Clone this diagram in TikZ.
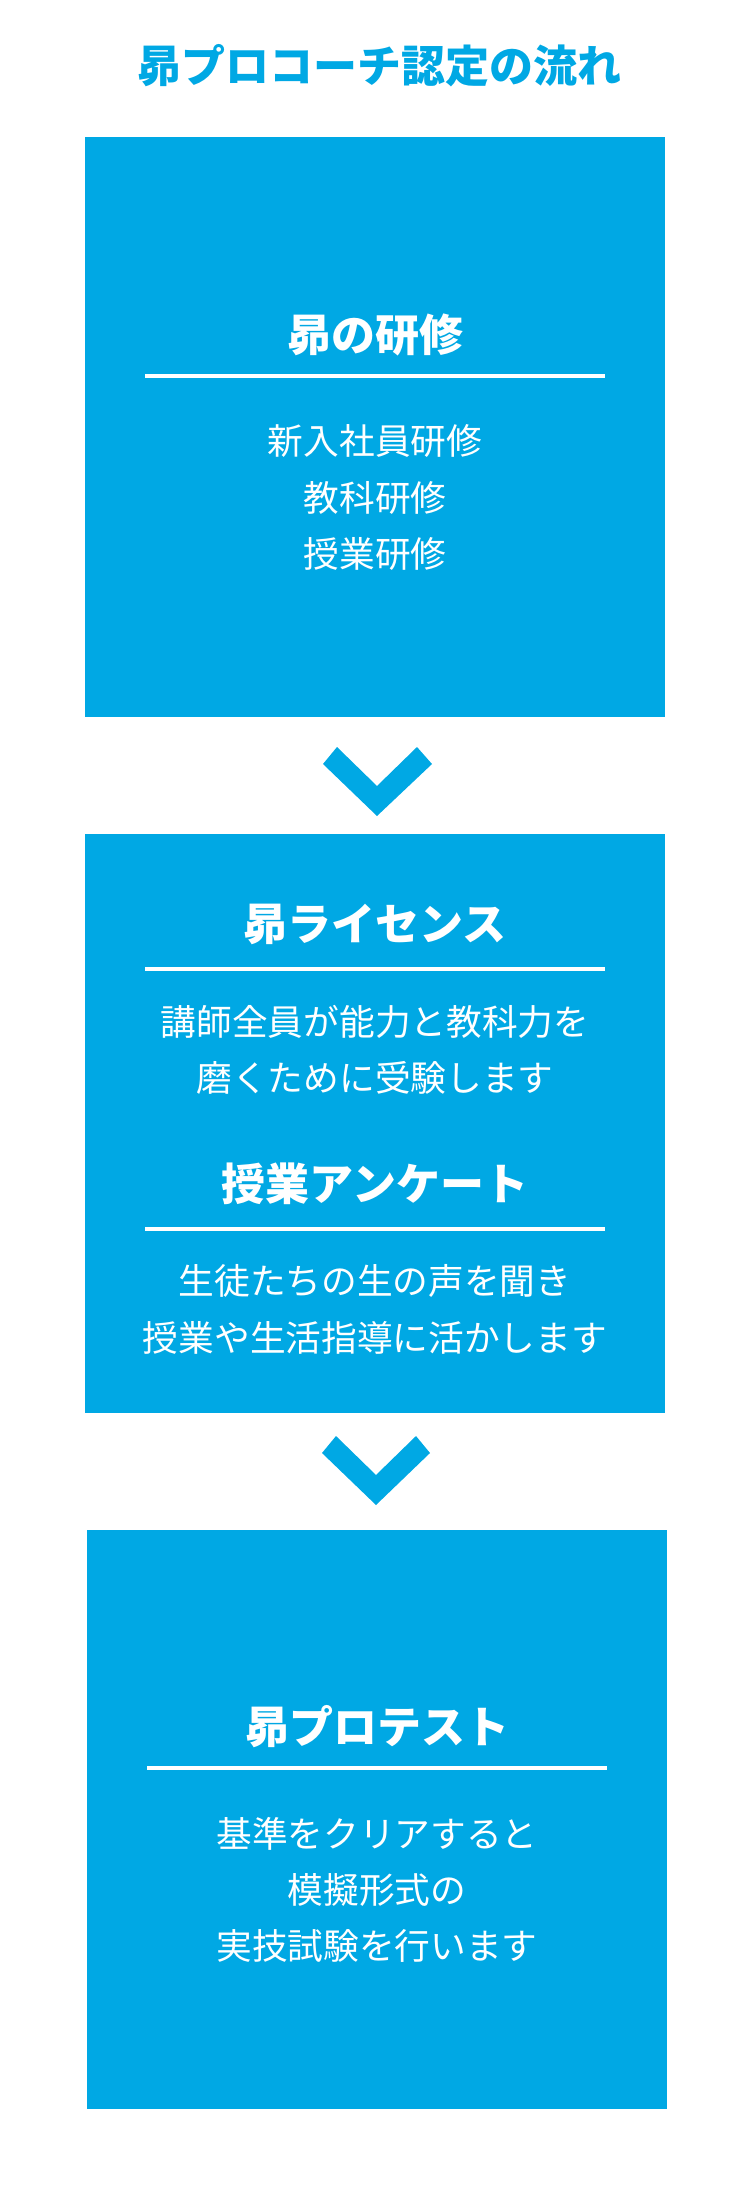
\documentclass[tikz,border=0pt]{standalone}
\usepackage{fontspec}
\setmainfont{Noto Sans CJK JP}
\definecolor{sblue}{HTML}{00A8E4}
\tikzset{
  x=1pt, y=-1pt,
  bx/.style={fill=sblue, draw=none, minimum width=580pt, minimum height=580pt, inner sep=0pt},
  ttl/.style={text=sblue, font=\fontsize{44pt}{52pt}\selectfont\bfseries, inner sep=0pt, text height=38.7pt, text depth=5.3pt},
  hd/.style={text=white, font=\fontsize{44pt}{52pt}\selectfont\bfseries, inner sep=0pt, text height=38.7pt, text depth=5.3pt},
  bd/.style={text=white, font=\fontsize{35.7pt}{44pt}\selectfont, inner sep=0pt, text height=31.4pt, text depth=4.3pt},
  rl/.style={draw=white, line width=4pt},
  chev/.style={fill=sblue, draw=none}
}
\begin{document}
\begin{tikzpicture}
\useasboundingbox (0,0) rectangle (750,2200);
\node[ttl] (t) at (379.5,66) {昴プロコーチ認定の流れ};
% box 1
\node[bx] (b1) at (375,427) {};
\node[hd] (h1) at (375,335) {昴の研修};
\draw[rl] (145,376) coordinate (r1a) -- (605,376) coordinate (r1b);
\node[bd] (p1) at (375,441) {新入社員研修};
\node[bd] (p2) at (375,498) {教科研修};
\node[bd] (p3) at (375,554) {授業研修};
% chevron 1
\fill[chev] (323,764) -- (337,747) -- (377,786) -- (417,747) -- (432,764) -- (377,816) -- cycle;
% box 2
\node[bx, minimum height=579pt] (b2) at (375,1123.5) {};
\node[hd] (h2) at (375,924) {昴ライセンス};
\draw[rl] (145,969) coordinate (r2a) -- (605,969) coordinate (r2b);
\node[bd] (p4) at (375,1022) {講師全員が能力と教科力を};
\node[bd] (p5) at (375,1078) {磨くために受験します};
\node[hd] (h3) at (375,1184) {授業アンケート};
\draw[rl] (145,1229) coordinate (r3a) -- (605,1229) coordinate (r3b);
\node[bd] (p6) at (375,1281) {生徒たちの生の声を聞き};
\node[bd] (p7) at (375,1338) {授業や生活指導に活かします};
% chevron 2
\fill[chev] (322,1453) -- (336,1436) -- (376,1475) -- (416,1436) -- (430,1453) -- (376,1505) -- cycle;
% box 3
\node[bx, minimum height=579pt] (b3) at (377,1819.5) {};
\node[hd] (h4) at (377,1727) {昴プロテスト};
\draw[rl] (147,1768) coordinate (r4a) -- (607,1768) coordinate (r4b);
\node[bd] (p8) at (377,1834) {基準をクリアすると};
\node[bd] (p9) at (377,1890) {模擬形式の};
\node[bd] (p10) at (377,1946) {実技試験を行います};
\end{tikzpicture}
\end{document}
